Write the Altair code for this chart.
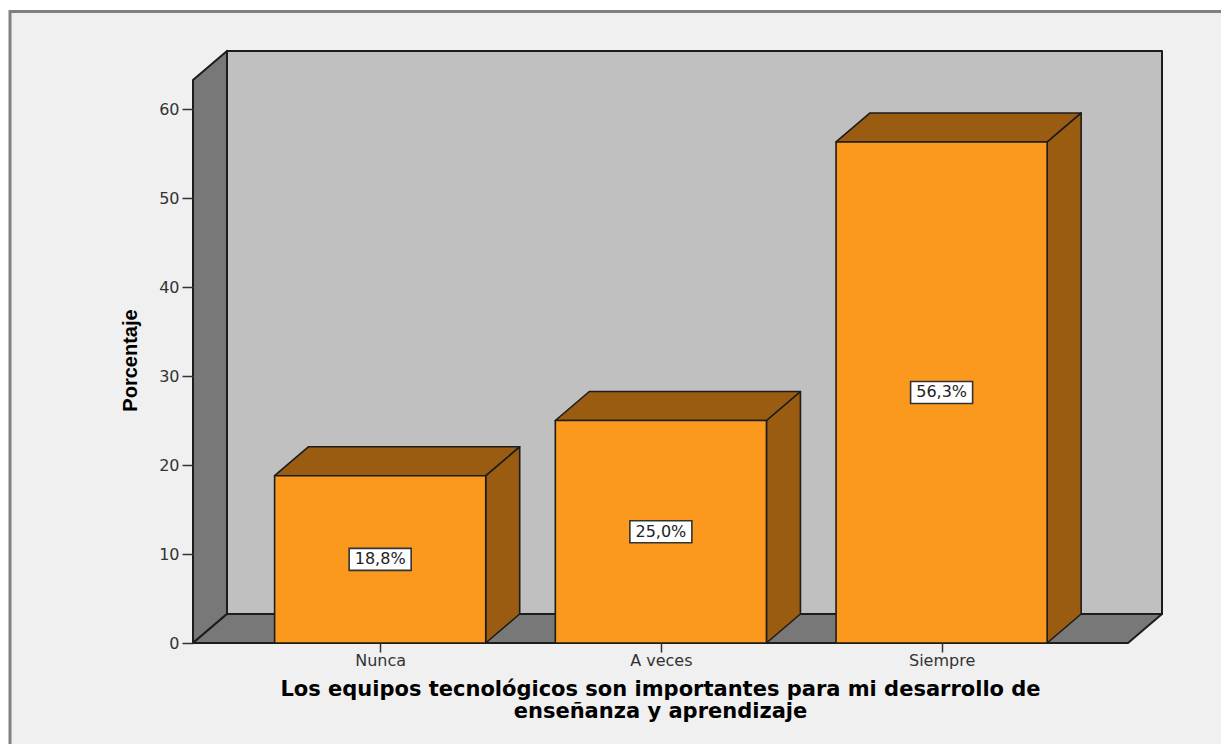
import altair as alt
import pandas as pd

categories = ["Nunca", "A veces", "Siempre"]
values = [18.8, 25.0, 56.3]
labels = ["18,8%", "25,0%", "56,3%"]
y_ticks = [0, 10, 20, 30, 40, 50, 60]
positions = [0, 1, 2]

X_MIN, X_MAX, DX = -0.6667, 2.664, 0.1211
Y_TOP, DY = 63.26, 3.26
HALF = 0.376
WALL, SHADE, ORANGE, DARK = "#c0c0c0", "#787878", "#fb991f", "#995c10"
INK = "#1c1c1c"
W, H = 969, 592


def face(name, fill, pts):
    return [{"face": name, "fill": fill, "x": a, "y": b, "y2": c} for a, b, c in pts]


walls = (
    face("left", SHADE, [(X_MIN, 0, Y_TOP), (X_MIN + DX, DY, Y_TOP + DY)])
    + face("floor", SHADE, [(X_MIN, 0, 0), (X_MIN + DX, 0, DY), (X_MAX, 0, DY), (X_MAX + DX, DY, DY)])
    + face("back", WALL, [(X_MIN + DX, DY, Y_TOP + DY), (X_MAX + DX, DY, Y_TOP + DY)])
)
bars = []
for i, (p, v) in enumerate(zip(positions, values)):
    l, r = p - HALF, p + HALF
    bars += face(f"side{i}", DARK, [(r, 0, v), (r + DX, DY, v + DY)])
    bars += face(f"top{i}", DARK, [(l, v, v), (l + DX, v, v + DY), (r, v, v + DY), (r + DX, v + DY, v + DY)])
    bars += face(f"front{i}", ORANGE, [(l, 0, v), (r, 0, v)])

labels_df = pd.DataFrame({"x": positions, "mid": [v / 2 for v in values], "label": labels})

label_expr = "{" + ",".join(f"'{p}':'{c}'" for p, c in zip(positions, categories)) + "}[datum.value]"
xs = alt.Scale(domain=[X_MIN, X_MAX + DX], nice=False, zero=False)
ys = alt.Scale(domain=[0, Y_TOP + DY], nice=False, zero=False)

x_axis = alt.Axis(
    values=positions, labelExpr=label_expr, domain=False, grid=False, zindex=1,
    tickColor="#333333", tickSize=9, tickWidth=1.5, labelColor="#333333",
    labelFont="DejaVu Sans", labelFontSize=16, labelPadding=0, labelFlush=False,
    title=["Los equipos tecnológicos son importantes para mi desarrollo de",
           "enseñanza y aprendizaje"],
    titleFont="DejaVu Sans", titleFontWeight="bold", titleFontSize=21, titleColor="#000000",
    titleLineHeight=22, titleX=467, titleY=52, titleAlign="center", titleBaseline="alphabetic",
)
y_axis = alt.Axis(
    values=y_ticks, domain=False, grid=False, zindex=1,
    tickColor="#333333", tickSize=11, tickWidth=1.5, labelColor="#333333",
    labelFont="DejaVu Sans", labelFontSize=16, labelPadding=3,
    title="Porcentaje", titleFont="Liberation Sans", titleFontWeight="bold",
    titleFontSize=20, titleColor="#000000", titleAngle=270, titleX=-57, titleY=309,
    titleAlign="center", titleBaseline="alphabetic",
)

X = alt.X("x:Q", scale=xs, axis=x_axis)

frame = alt.Chart(pd.DataFrame({"k": [0]})).mark_rect(
    fill="#f0f0f0", stroke="#808080", strokeWidth=3
).encode(x=alt.value(-183), x2=alt.value(1100), y=alt.value(-39.5), y2=alt.value(720))

wall_layer = alt.Chart(alt.Data(values=walls)).mark_area(
    stroke=INK, strokeWidth=2, strokeJoin="round", opacity=1
).encode(
    x=X,
    y=alt.Y("y:Q", scale=ys, axis=y_axis),
    y2="y2:Q",
    fill=alt.Fill("fill:N", scale=None),
    detail="face:N",
)

bar_layer = alt.Chart(alt.Data(values=bars)).mark_area(
    stroke=INK, strokeWidth=1.6, strokeJoin="round", opacity=1
).encode(
    x=X,
    y=alt.Y("y:Q", scale=ys, axis=y_axis),
    y2="y2:Q",
    fill=alt.Fill("fill:N", scale=None),
    detail="face:N",
)

box = alt.Chart(labels_df).mark_rect(
    width=62, height=22, fill="#ffffff", stroke="#333333", strokeWidth=1.6
).encode(x=X, y=alt.Y("mid:Q", scale=ys, axis=y_axis))

text = alt.Chart(labels_df).mark_text(
    font="DejaVu Sans", fontSize=16, color="#222222", align="center", baseline="middle"
).encode(x=X, y=alt.Y("mid:Q", scale=ys, axis=y_axis), text="label:N")

chart = alt.layer(frame, wall_layer, bar_layer, box, text).properties(
    width=W, height=H, background="white", autosize="none",
    padding={"left": 185, "top": 43, "right": 59, "bottom": 101},
).configure_view(stroke=None)

chart.save("out.html", embed_options={"renderer": "svg", "actions": False})
